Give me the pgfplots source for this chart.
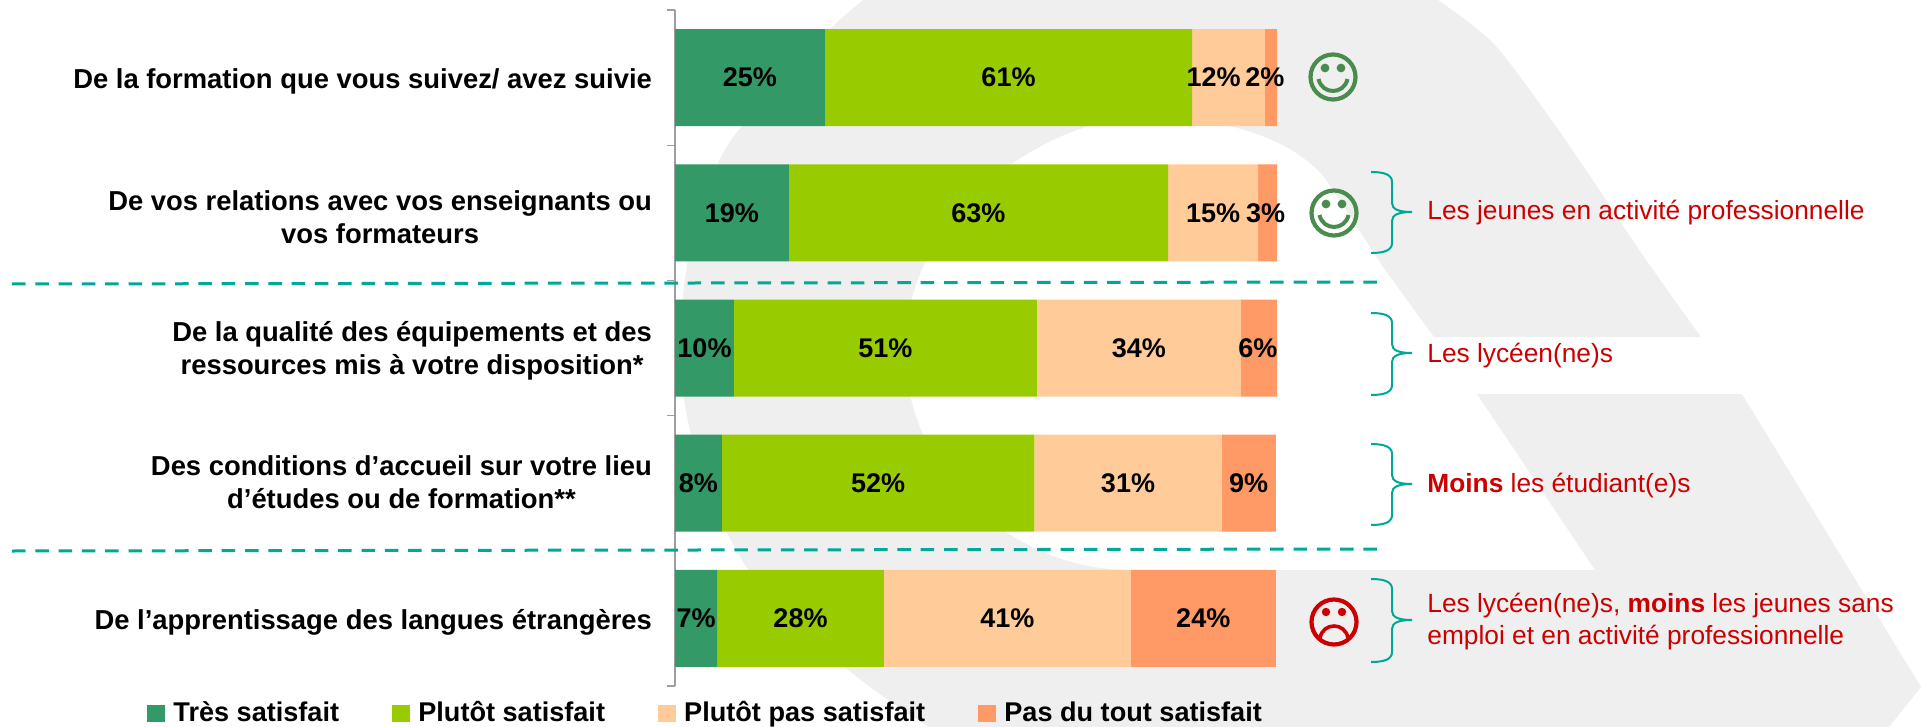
\documentclass[border=0pt]{standalone}
\usepackage{fontspec}
\setmainfont{Liberation Sans}
\usepackage{pgfplots}
\pgfplotsset{compat=1.18}
\definecolor{cA}{HTML}{339966}
\definecolor{cB}{HTML}{99CC00}
\definecolor{cC}{HTML}{FFCC99}
\definecolor{cD}{HTML}{FF9966}
\definecolor{wm}{HTML}{EFEFEF}
\definecolor{teal}{HTML}{00A896}
\definecolor{rouge}{HTML}{CC0000}
\definecolor{vert}{HTML}{4A8C4E}
\newcommand{\fs}{\fontsize{13.7}{16.5}\selectfont}
\newcommand{\fd}{\fontsize{13.5}{16.5}\selectfont}
\newcommand{\fl}{\fontsize{13.55}{16.5}\selectfont}
\newcommand{\accol}[3]{% top, tip, bottom
  \draw[teal,line width=1pt] (1371,#1) .. controls (1385,#1) and (1392,#1+3) .. (1392,#1+10)
   -- (1392,#2-9) .. controls (1392,#2-3) and (1398,#2) .. (1412,#2)
   .. controls (1398,#2) and (1392,#2+3) .. (1392,#2+9)
   -- (1392,#3-10) .. controls (1392,#3-3) and (1385,#3) .. (1371,#3);}
\newcommand{\smileface}[3]{%
  \begin{scope}[shift={(#1,#2)}]
  \draw[#3,line width=2.1pt] (0,0) circle[radius=22.5];
  \fill[#3] (-8,-9) circle[radius=4.4] (8,-9) circle[radius=4.4];
  \draw[#3,line width=2pt] (-14.5,2) .. controls (-11,18) and (11,18) .. (14.5,2);
  \end{scope}}
\newcommand{\frownface}[3]{%
  \begin{scope}[shift={(#1,#2)}]
  \draw[#3,line width=2.1pt] (0,0) circle[radius=22.5];
  \fill[#3] (-8,-10) circle[radius=4.2] (8,-10) circle[radius=4.2];
  \draw[#3,line width=1.8pt] (-14,16) .. controls (-11,0) and (11,0) .. (14,16);
  \end{scope}}
\begin{document}
\begin{tikzpicture}[x=0.5pt,y=-0.5pt]
\path[use as bounding box] (0,0) rectangle (1921,727);
\coordinate (O) at (675,686);
% filigrane de fond
\fill[wm] (863,0) -- plot[smooth,tension=.5] coordinates {(1438,0)(1490,40)(1532,93)(1584,167)(1644,257)(1701,337)}
  -- (1434,337) -- (1383,267) -- (1325,178) .. controls (1280,125) and (1190,115) .. (1130,118)
  .. controls (1040,125) and (905,215) .. (905,350)
  .. controls (905,470) and (1010,570) .. (1130,570)
  -- (1595,570) -- (1477,394) -- (1742,394) -- (1921,687) -- (1889,727) -- (929,727)
  .. controls (860,685) and (790,625) .. (749,571)
  .. controls (715,520) and (680,430) .. (680,350)
  .. controls (680,270) and (700,175) .. (741,127)
  .. controls (775,85) and (825,30) .. (863,0) -- cycle;
\begin{axis}[
  at={(O)},anchor=south west,
  scale only axis,width=301pt,height=338pt,
  xmin=0,xmax=100,ymin=-0.5,ymax=4.5,y dir=reverse,
  hide x axis,axis y line=left,
  axis line style={-,draw=black!38,line width=.6pt},
  xbar stacked,bar width=48.5pt,
  ytick={0.027,1.03,2.018,2.99,4.027},
  major tick length=0pt,
  extra y ticks={-0.5,0.5,1.5,2.5,3.5,4.5},
  extra y tick labels={},
  extra y tick style={major tick length=4pt,tick align=outside,tick style={draw=black!38,line width=.6pt}},
  yticklabels={{De la formation que vous suivez/ avez suivie},{De vos relations avec vos enseignants ou\\vos formateurs},{De la qualité des équipements et des\\ressources mis à votre disposition*},{Des conditions d’accueil sur votre lieu\\d’études ou de formation**},{De l’apprentissage des langues étrangères}},
  yticklabel style={align=center,font=\fs\bfseries,xshift=-8pt},
  point meta=explicit symbolic,
  nodes near coords={\pgfplotspointmeta},
  every node near coord/.append style={font=\fd\bfseries,text=black,anchor=center,inner sep=0pt},
  legend columns=4,
  legend style={at={(-0.877,-0.04)},anchor=west,draw=none,fill=none,inner sep=0pt,font=\fl\bfseries,
     /tikz/every even column/.append style={column sep=24.6pt},
     /tikz/every odd column/.append style={column sep=2pt}},
  legend image code/.code={\fill[#1] (0pt,-4.25pt) rectangle (9pt,4.25pt);},
]
\addplot[fill=cA,draw=none] coordinates {(24.9,0)[25\%] (18.9,1)[19\%] (9.8,2)[10\%] (7.8,3)[8\%] (7.0,4)[7\%]};
\addplot[fill=cB,draw=none] coordinates {(61.0,0)[61\%] (63.0,1)[63\%] (50.3,2)[51\%] (51.9,3)[52\%] (27.7,4)[28\%]};
\addplot[fill=cC,draw=none] coordinates {(12.1,0)[12\%\kern15pt] (14.95,1)[15\%] (33.9,2)[34\%] (31.1,3)[31\%] (41.0,4)[41\%]};
\addplot[fill=cD,draw=none] coordinates {(2.0,0)[2\%\kern6pt] (3.15,1)[3\%\kern2pt] (6.0,2)[6\%\kern1pt] (9.0,3)[9\%] (24.1,4)[24\%]};
\legend{Très satisfait,Plutôt satisfait,Plutôt pas satisfait,Pas du tout satisfait}
\end{axis}
% pointillés
\draw[teal,line width=1.5pt,dash pattern=on 6.75pt off 4.9pt] (12,284) -- (1378,282);
\draw[teal,line width=1.5pt,dash pattern=on 6.75pt off 4.9pt] (12,551) -- (1378,549);
% accolades
\accol{172}{212}{253}
\accol{313}{353}{395}
\accol{444}{484}{525}
\accol{579}{620}{662}
% visages
\smileface{1333}{77}{vert}
\smileface{1334}{213}{vert}
\frownface{1334}{622}{rouge}
% commentaires
\begin{scope}[every node/.style={anchor=base west,inner sep=0pt,text=rouge,font=\fontsize{13.15}{16}\selectfont}]
\node at (1427,220) {Les jeunes en activité professionnelle};
\node at (1427,362) {Les lycéen(ne)s};
\node at (1427,492) {\textbf{Moins} les étudiant(e)s};
\node at (1427,612) {Les lycéen(ne)s, \textbf{moins} les jeunes sans};
\node at (1427,644) {emploi et en activité professionnelle};
\end{scope}
\end{tikzpicture}
\end{document}
